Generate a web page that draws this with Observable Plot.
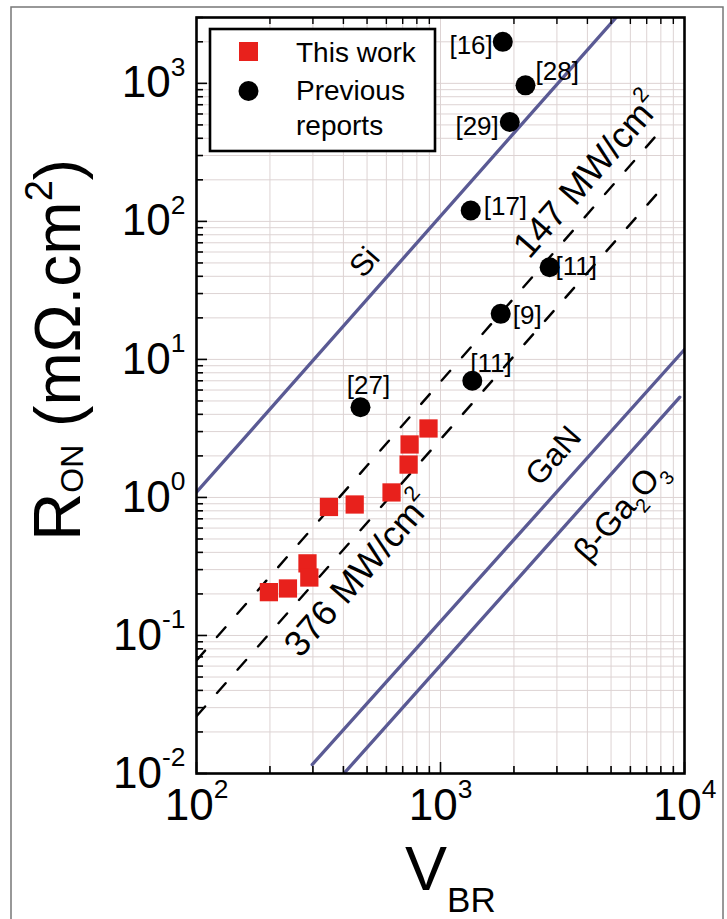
<!DOCTYPE html>
<html><head><meta charset="utf-8">
<script src="https://cdn.jsdelivr.net/npm/d3@7"></script>
<script src="https://cdn.jsdelivr.net/npm/@observablehq/plot@0.6"></script>
<style>
body{margin:0;background:#fff;}
#chart{position:relative;width:727px;height:919px;overflow:hidden;}
svg{font-family:"Liberation Sans",Arial,sans-serif;}
</style>
</head><body><div id="chart"></div>
<script>
// ---- data ----
const thisWorkV = [198, 237, 285, 290, 349, 445, 630, 740, 747, 893];
const thisWorkR = [0.206, 0.219, 0.333, 0.263, 0.853, 0.889, 1.087, 1.73, 2.42, 3.16];

const prevRefs = ["[16]", "[28]", "[29]", "[17]", "[11]", "[9]", "[11]", "[27]"];
const prevV    = [1800, 2230, 1923, 1330, 2800, 1765, 1350, 470];
const prevR    = [2000, 968, 525, 120, 46.5, 21.4, 7.0, 4.5];

const limitNames = ["Si", "GaN", "β-Ga2O3"];
const limitV = [[100, 5500], [298, 10000], [406, 9570]];
const limitR = [[1.09, 3300], [0.0116, 11.8], [0.0102, 5.33]];

const bfomNames = ["147 MW/cm2", "376 MW/cm2"];
const bfomV = [[100, 8200], [100, 8400]];
const bfomR = [[0.066, 480], [0.026, 188]];

const xMajor = [100, 1000, 10000];
const yMajor = [0.01, 0.1, 1, 10, 100, 1000];
const xMinor = [200,300,400,500,600,700,800,900,2000,3000,4000,5000,6000,7000,8000,9000];
const yMinor = [0.02,0.03,0.04,0.05,0.06,0.07,0.08,0.09,0.2,0.3,0.4,0.5,0.6,0.7,0.8,0.9,
                2,3,4,5,6,7,8,9,20,30,40,50,60,70,80,90,200,300,400,500,600,700,800,900,2000,3000];

// ---- tables built from the arrays ----
const thisWork = thisWorkV.map((v, i) => ({V: v, R: thisWorkR[i]}));
const prev = prevV.map((v, i) => ({V: v, R: prevR[i], ref: prevRefs[i]}));
const limits = limitNames.flatMap((n, i) => limitV[i].map((v, j) => ({name: n, V: v, R: limitR[i][j]})));
const bfom = bfomNames.flatMap((n, i) => bfomV[i].map((v, j) => ({name: n, V: v, R: bfomR[i][j]})));

// label placement offsets (style) for each reference tag
const refOffsets = [[-10, 4, "end"], [10, -14, "start"], [-11, 5, "end"], [13, -4, "start"],
                    [6, -1, "start"], [12, 2, "start"], [-2, -17, "start"], [8, -22, "middle"]];

const annotations = [
  {text: "Si", V: 489, R: 50.5, size: 31},
  {text: "GaN", V: 2904, R: 2.0, size: 32},
  {text: "β-Ga_{2}O_{3}", V: 5470, R: 0.80, size: 33},
  {text: "376 MW/cm^{2}", V: 461, R: 0.277, size: 36},
  {text: "147 MW/cm^{2}", V: 4000, R: 215, size: 36}
];

const gridColor = "#ddd3d3";
const blue = "#5a5a94";

const plot = Plot.plot({
  width: 727, height: 919,
  marginLeft: 196, marginRight: 43, marginTop: 17, marginBottom: 146,
  style: {fontFamily: "Liberation Sans, Arial, sans-serif", background: "white"},
  x: {type: "log", domain: [100, 10000]},
  y: {type: "log", domain: [0.01, 3000]},
  marks: [
    Plot.gridX({ticks: xMinor.concat(xMajor), stroke: gridColor, strokeOpacity: 1, strokeWidth: 1}),
    Plot.gridY({ticks: yMinor.concat(yMajor), stroke: gridColor, strokeOpacity: 1, strokeWidth: 1}),
    Plot.line(limits, {x: "V", y: "R", z: "name", stroke: blue, strokeWidth: 3.3, clip: true}),
    Plot.line(bfom, {x: "V", y: "R", z: "name", stroke: "black", strokeWidth: 2.4, strokeDasharray: "13,18", clip: true}),
    Plot.axisX({anchor: "bottom", ticks: xMajor, tickSize: -11, tickFormat: () => "", label: null, strokeWidth: 1.6}),
    Plot.axisX({anchor: "bottom", ticks: xMinor, tickSize: -7, tickFormat: () => "", label: null, strokeWidth: 1.6}),
    Plot.axisX({anchor: "top", ticks: xMinor, tickSize: -6, tickFormat: () => "", label: null, strokeWidth: 1.4}),
    Plot.axisY({anchor: "left", ticks: yMajor, tickSize: -11, tickFormat: () => "", label: null, strokeWidth: 1.6}),
    Plot.axisY({anchor: "left", ticks: yMinor, tickSize: -7, tickFormat: () => "", label: null, strokeWidth: 1.6}),
    Plot.frame({stroke: "black", strokeWidth: 2.6}),
    Plot.text(xMajor, {x: d => d, frameAnchor: "bottom", dy: 46, text: d => "10^{" + Math.round(Math.log10(d)) + "}",
      fontSize: 44, textAnchor: "middle", fill: "black"}),
    Plot.text(yMajor, {y: d => d, frameAnchor: "left", dx: -11, text: d => "10^{" + Math.round(Math.log10(d)) + "}",
      fontSize: 44, textAnchor: "end", fill: "black"}),
    Plot.dot(prev, {x: "V", y: "R", r: 10, fill: "black"}),
    Plot.dot(thisWork, {x: "V", y: "R", r: 10.3, symbol: "square", fill: "#e8211c"}),
    ...prev.map((d, i) => Plot.text([d], {
      x: "V", y: "R", text: "ref", fontSize: 26, fill: "black",
      dx: refOffsets[i][0], dy: refOffsets[i][1], textAnchor: refOffsets[i][2]
    })),
    ...annotations.map(a => Plot.text([a], {x: "V", y: "R", text: "text", fontSize: a.size, rotate: -49, textAnchor: "middle", fill: "black"}))
  ]
});

document.getElementById("chart").appendChild(plot);
const svg = d3.select(plot);

// markup: ^{..} superscript, _{..} subscript
function markup(root) {
  root.querySelectorAll("text").forEach(t => {
    const s = t.textContent;
    if (!/[\^_]\{/.test(s)) return;
    const fs = parseFloat(getComputedStyle(t).fontSize) || 16;
    t.textContent = "";
    const re = /([\^_])\{([^}]*)\}/g;
    let last = 0, m, cur = 0;
    const add = (str, target, size) => {
      const ts = document.createElementNS("http://www.w3.org/2000/svg", "tspan");
      ts.textContent = str;
      if (target !== cur) ts.setAttribute("dy", (target - cur).toFixed(2));
      cur = target;
      if (size) ts.setAttribute("font-size", size.toFixed(1));
      t.appendChild(ts);
    };
    while ((m = re.exec(s))) {
      const before = s.slice(last, m.index);
      if (before) add(before, 0, null);
      if (m[1] === "^") add(m[2], -0.48 * fs, 0.6 * fs);
      else add(m[2], 0.28 * fs, 0.6 * fs);
      last = re.lastIndex;
    }
    if (last < s.length) add(s.slice(last), 0, null);
  });
}
markup(plot);

// axis titles
const yt = svg.append("text").attr("transform", "translate(80,350) rotate(-90)")
  .attr("text-anchor", "middle").attr("fill", "black");
yt.append("tspan").attr("font-size", 67).text("R");
yt.append("tspan").attr("font-size", 32).attr("dy", 3).text("ON");
yt.append("tspan").attr("font-size", 64).attr("dy", -3).text(" (mΩ.cm");
yt.append("tspan").attr("font-size", 38).attr("dy", -28).text("2");
yt.append("tspan").attr("font-size", 64).attr("dy", 28).text(")");

const xt = svg.append("text").attr("x", 405).attr("y", 890).attr("text-anchor", "start").attr("fill", "black");
xt.append("tspan").attr("font-size", 63).text("V");
xt.append("tspan").attr("font-size", 35).attr("dy", 22).text("BR");

// legend
const lg = svg.append("g").attr("text-anchor", "start");
lg.append("rect").attr("x", 210).attr("y", 29).attr("width", 225).attr("height", 122)
  .attr("fill", "white").attr("stroke", "black").attr("stroke-width", 2.6);
lg.append("rect").attr("x", 239).attr("y", 42).attr("width", 19).attr("height", 19).attr("fill", "#e8211c");
lg.append("circle").attr("cx", 248.5).attr("cy", 91).attr("r", 10).attr("fill", "black");
[["This work", 62], ["Previous", 100], ["reports", 135]].forEach(([t, y]) =>
  lg.append("text").attr("x", 296).attr("y", y).attr("font-size", 28).attr("fill", "black").text(t));

// outer figure border
svg.append("rect").attr("x", 11).attr("y", 7).attr("width", 712).attr("height", 940)
  .attr("fill", "none").attr("stroke", "#777").attr("stroke-width", 1.5);
</script>
</body></html>
